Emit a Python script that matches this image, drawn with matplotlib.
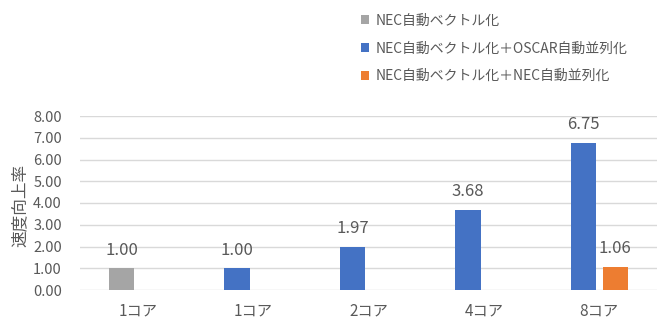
import matplotlib
matplotlib.use('Agg')
import matplotlib.pyplot as plt
import numpy as np

plt.rcParams['font.family'] = ['Noto Sans CJK JP', 'DejaVu Sans']

# Data
categories = ['1コア', '1コア', '2コア', '4コア', '8コア']
nec_vec = [1.00, np.nan, np.nan, np.nan, np.nan]
nec_vec_oscar = [np.nan, 1.00, 1.97, 3.68, 6.75]
nec_vec_nec = [np.nan, np.nan, np.nan, np.nan, 1.06]
series_names = ['NEC自動ベクトル化',
                'NEC自動ベクトル化＋OSCAR自動並列化',
                'NEC自動ベクトル化＋NEC自動並列化']
colors = ['#a5a5a5', '#4472c4', '#ed7d31']
text_gray = '#595959'

fig = plt.figure(figsize=(6.58, 3.2), dpi=100)
ax = fig.add_axes([80 / 658, 1 - 290 / 320, 577 / 658, 174 / 320])

x = np.arange(len(categories))
w = 0.22
off = 0.139
bars = []
for vals, pos, c, name in [(nec_vec, x - off, colors[0], series_names[0]),
                           (nec_vec_oscar, x - off, colors[1], series_names[1]),
                           (nec_vec_nec, x + off, colors[2], series_names[2])]:
    b = ax.bar(pos, vals, width=w, color=c, label=name, zorder=3)
    labels = ['' if np.isnan(v) else '%.2f' % v for v in vals]
    ax.bar_label(b, labels=labels, padding=7, fontsize=12, color=text_gray)
    bars.append(b)

ax.set_xlim(-0.5, len(categories) - 0.5)
ax.set_ylim(0, 8)
ax.set_yticks(np.arange(0, 9, 1))
ax.set_yticklabels(['%.2f' % v for v in np.arange(0, 9, 1)])
ax.set_xticks(x)
ax.set_xticklabels(categories)
ax.tick_params(axis='both', length=0, colors=text_gray, labelsize=10.5)
ax.tick_params(axis='x', pad=9, labelsize=11)
ax.tick_params(axis='y', pad=13)
ax.grid(axis='y', color='#d9d9d9', linewidth=1, zorder=0)
for s in ax.spines.values():
    s.set_visible(False)

fig.text(20 / 658, 1 - 205 / 320, '速度向上率', rotation=90, ha='center', va='center',
         fontsize=12, color=text_gray)

fig.legend(handles=bars, loc='upper left', bbox_to_anchor=(348 / 658, 1 - 1 / 320),
           frameon=False, fontsize=10, handlelength=0.6, handleheight=0.6,
           handletextpad=0.5, labelspacing=1.0, labelcolor=text_gray)

fig.savefig('out.png', dpi=100)
